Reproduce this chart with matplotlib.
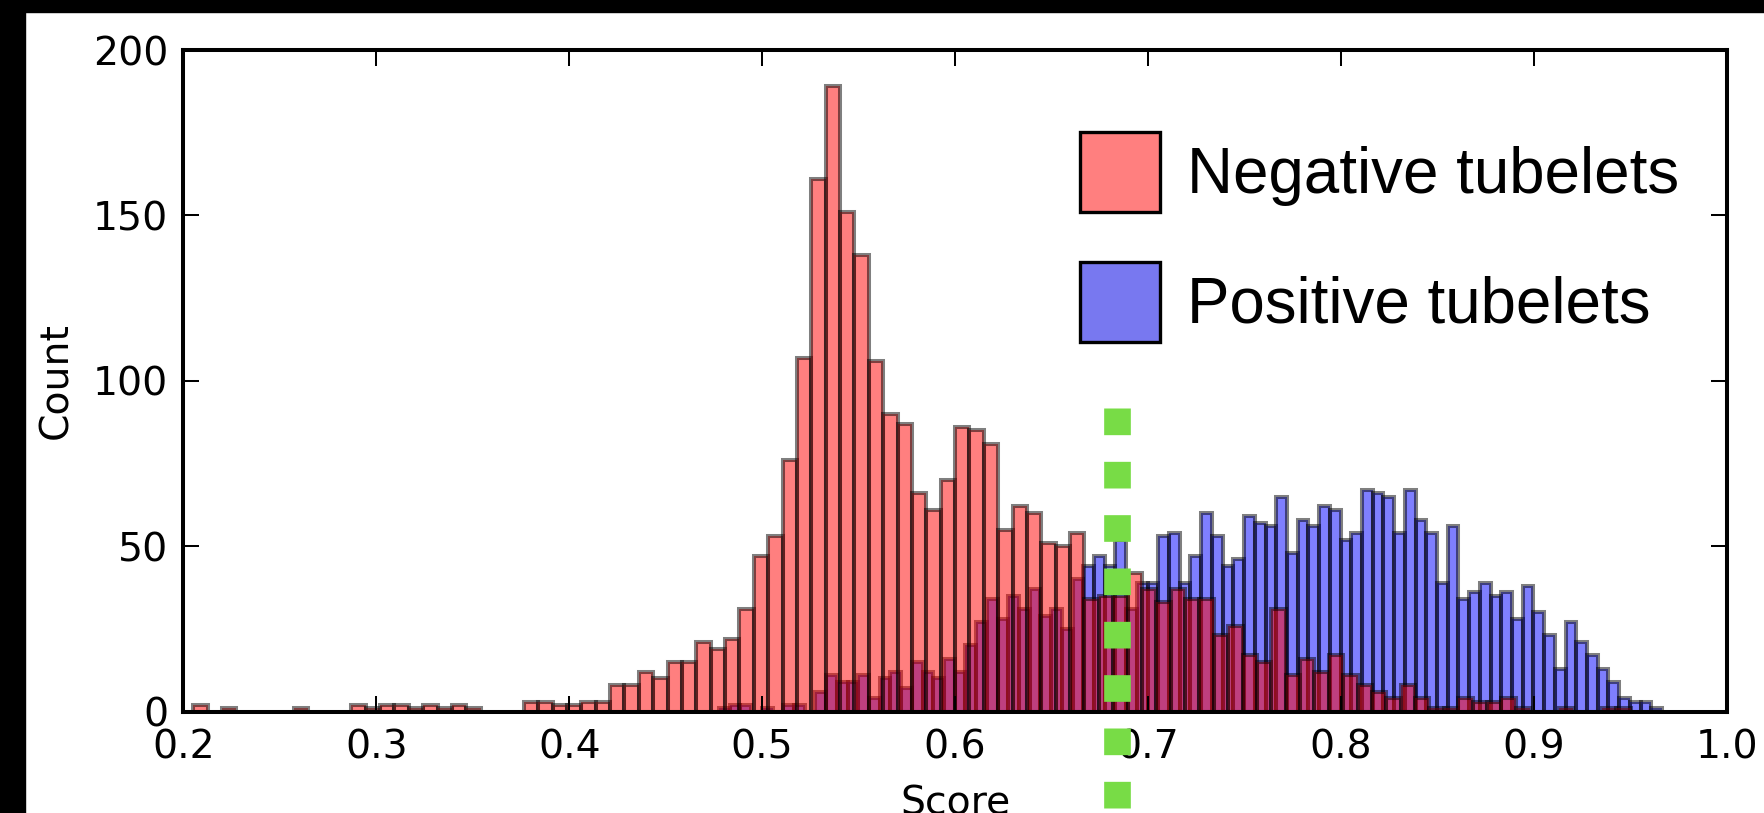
import numpy as np
import matplotlib
matplotlib.use("Agg")
import matplotlib.pyplot as plt
from matplotlib.patches import Patch, Rectangle

# histogram counts (100 bins each)
neg_range = (0.2051, 0.9501)
neg_counts = [
    2, 0, 1, 0, 0, 0, 0, 1, 0, 0,
    0, 2, 1, 2, 2, 1, 2, 1, 2, 1,
    0, 0, 0, 3, 3, 2, 2, 3, 3, 8,
    8, 12, 10, 15, 15, 21, 19, 22, 31, 47,
    53, 76, 107, 161, 189, 151, 138, 106, 90, 87,
    66, 61, 70, 86, 85, 81, 55, 62, 60, 51,
    50, 54, 34, 35, 35, 42, 37, 33, 37, 34,
    34, 23, 26, 17, 15, 31, 11, 16, 12, 17,
    11, 8, 6, 4, 8, 4, 1, 1, 4, 3,
    3, 4, 1, 0, 0, 1, 0, 0, 1, 1,
]
pos_range = (0.4109, 0.9664)
pos_counts = [
    0, 0, 0, 0, 0, 0, 0, 0, 0, 0,
    0, 0, 1, 2, 2, 0, 1, 0, 2, 2,
    0, 6, 11, 9, 9, 11, 4, 10, 12, 7,
    15, 12, 10, 16, 12, 20, 27, 34, 28, 35,
    31, 37, 29, 31, 25, 40, 44, 47, 44, 52,
    31, 39, 39, 53, 54, 39, 47, 60, 53, 44,
    46, 59, 57, 56, 65, 48, 58, 56, 62, 61,
    52, 54, 67, 66, 65, 54, 67, 58, 54, 39,
    56, 34, 36, 39, 35, 36, 28, 38, 30, 23,
    13, 27, 21, 17, 13, 9, 4, 3, 3, 1,
]
threshold = 0.6838
threshold_top = 91.7
labels = ["Negative tubelets", "Positive tubelets"]

W, H = 1764, 813
fig = plt.figure(figsize=(W / 100, H / 100), dpi=100)
ax = fig.add_axes([183.4 / W, 1 - 711.5 / H, 1543.5 / W, 661.5 / H])

neg_edges = np.linspace(neg_range[0], neg_range[1], len(neg_counts) + 1)
pos_edges = np.linspace(pos_range[0], pos_range[1], len(pos_counts) + 1)
neg_mid = (neg_edges[:-1] + neg_edges[1:]) / 2
pos_mid = (pos_edges[:-1] + pos_edges[1:]) / 2

ax.hist(pos_mid, bins=pos_edges, weights=pos_counts, color="blue", alpha=0.5,
        edgecolor="black", linewidth=2.9)
ax.hist(neg_mid, bins=neg_edges, weights=neg_counts, color="red", alpha=0.5,
        edgecolor="black", linewidth=2.9)

# dotted threshold line running past the bottom of the axes
ax.plot([threshold, threshold], [threshold_top, -45], color="#78dc46",
        linewidth=19.2, linestyle=(0, (1, 1)), clip_on=False, zorder=5)

ax.set_xlim(0.2, 1.0)
ax.set_ylim(0, 200)
ax.set_xticks(np.arange(0.2, 1.01, 0.1))
ax.set_xticklabels(["%.1f" % t for t in np.arange(0.2, 1.01, 0.1)])
ax.set_yticks([0, 50, 100, 150, 200])
ax.tick_params(direction="in", length=11.3, width=1.45, top=True, right=True,
               labelsize=28.4)
ax.tick_params(axis="x", pad=12.5)
ax.tick_params(axis="y", pad=10.8)
for s in ax.spines.values():
    s.set_linewidth(2.9)
ax.set_xlabel("Score", fontsize=28.4, labelpad=12.6)
ax.set_ylabel("Count", fontsize=28.4, labelpad=13)

handles = [Patch(facecolor="#ff7f7f", edgecolor="black", linewidth=2.4),
           Patch(facecolor="#7878f0", edgecolor="black", linewidth=2.4)]
fig.legend(handles, labels, loc="upper left",
           bbox_to_anchor=(1079.6 / W, 1 - 131.7 / H), frameon=False,
           borderpad=0, borderaxespad=0, handlelength=1.258, handleheight=1.558,
           handletextpad=0.425, labelspacing=0.786,
           prop={"family": "Liberation Sans", "size": 45.8})

# black bands along the top and left edges of the picture
fig.patches.append(Rectangle((0, 0), 25 / W, 1, transform=fig.transFigure,
                             color="black", zorder=10))
fig.patches.append(Rectangle((0, 1 - 12 / H), 1, 12 / H, transform=fig.transFigure,
                             color="black", zorder=10))

fig.savefig("out.png", dpi=100)
